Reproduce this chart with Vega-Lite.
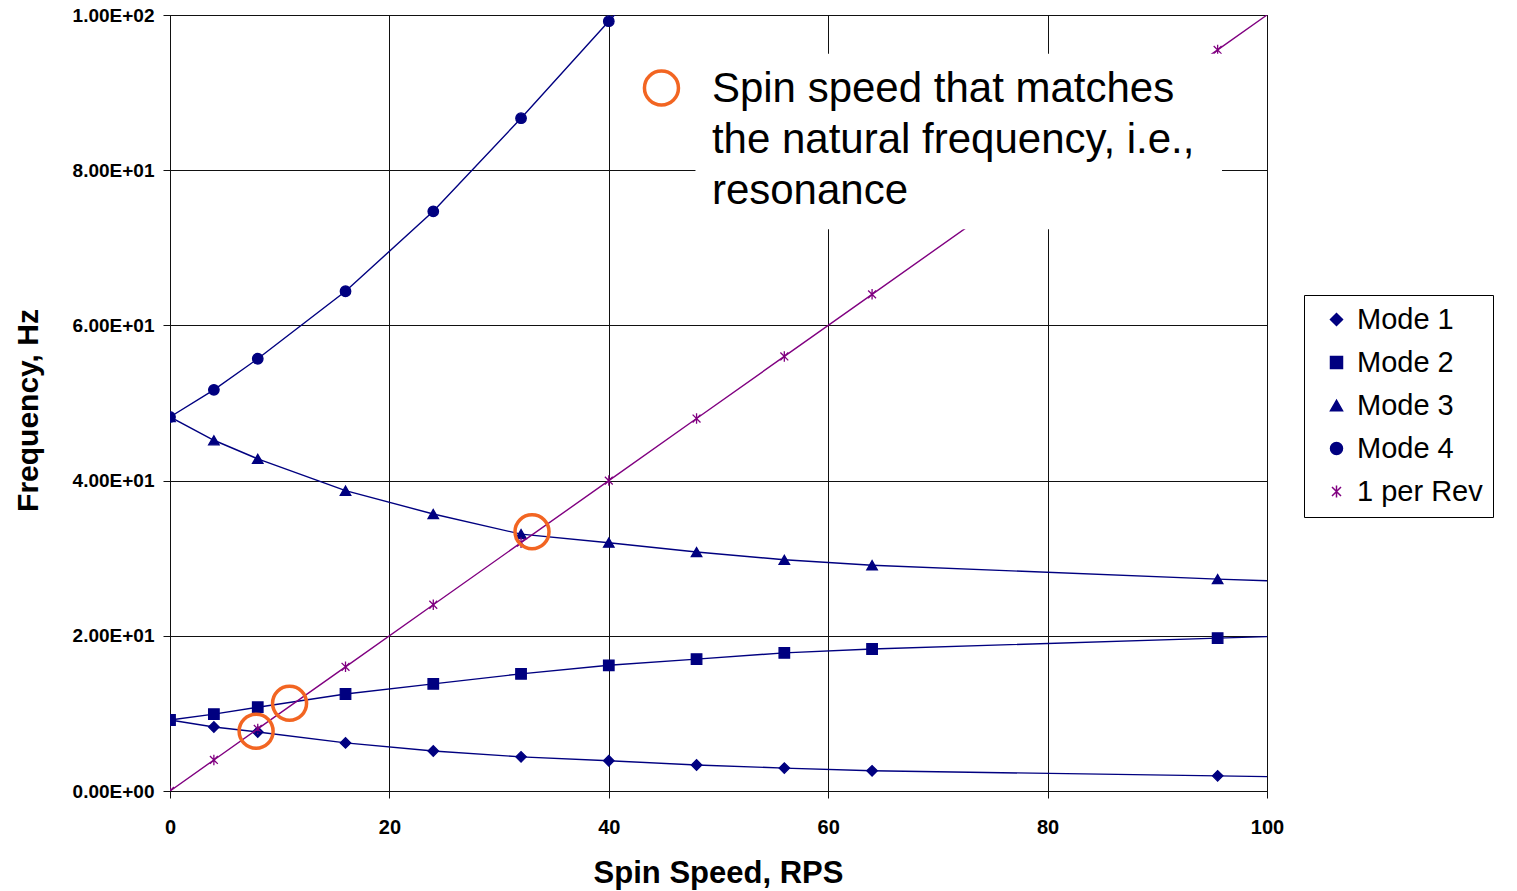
{
  "$schema": "https://vega.github.io/schema/vega-lite/v6.json",
  "autosize": "none",
  "width": 1097,
  "height": 776,
  "padding": {"left": 170, "top": 15, "right": 250, "bottom": 100},
  "background": "white",
  "config": {
    "font": "Liberation Sans",
    "view": {"stroke": "#333", "strokeWidth": 1},
    "axis": {"gridColor": "#111", "gridOpacity": 1, "gridWidth": 1, "domainColor": "#111", "tickColor": "#111", "tickSize": 7},
    "legend": {
      "title": null, "orient": "none", "legendX": 1134, "legendY": 280,
      "strokeColor": "#000", "fillColor": "white", "padding": 10,
      "labelFontSize": 29, "labelColor": "#000", "labelFont": "Liberation Sans",
      "rowPadding": 13, "symbolSize": 144, "symbolOffset": 8, "labelOffset": 6
    }
  },
  "datasets": {
    "curves": [
      {"rps": 0, "freq": 9.15, "series": "Mode 1"},
      {"rps": 4, "freq": 8.25, "series": "Mode 1"},
      {"rps": 8, "freq": 7.6, "series": "Mode 1"},
      {"rps": 16, "freq": 6.2, "series": "Mode 1"},
      {"rps": 24, "freq": 5.15, "series": "Mode 1"},
      {"rps": 32, "freq": 4.4, "series": "Mode 1"},
      {"rps": 40, "freq": 3.9, "series": "Mode 1"},
      {"rps": 48, "freq": 3.35, "series": "Mode 1"},
      {"rps": 56, "freq": 2.95, "series": "Mode 1"},
      {"rps": 64, "freq": 2.6, "series": "Mode 1"},
      {"rps": 95.5, "freq": 1.95, "series": "Mode 1"},
      {"rps": 100, "freq": 1.85, "series": "Mode 1"},
      {"rps": 0, "freq": 9.15, "series": "Mode 2"},
      {"rps": 4, "freq": 9.9, "series": "Mode 2"},
      {"rps": 8, "freq": 10.8, "series": "Mode 2"},
      {"rps": 16, "freq": 12.5, "series": "Mode 2"},
      {"rps": 24, "freq": 13.8, "series": "Mode 2"},
      {"rps": 32, "freq": 15.1, "series": "Mode 2"},
      {"rps": 40, "freq": 16.2, "series": "Mode 2"},
      {"rps": 48, "freq": 17.0, "series": "Mode 2"},
      {"rps": 56, "freq": 17.8, "series": "Mode 2"},
      {"rps": 64, "freq": 18.3, "series": "Mode 2"},
      {"rps": 95.5, "freq": 19.7, "series": "Mode 2"},
      {"rps": 100, "freq": 19.9, "series": "Mode 2"},
      {"rps": 0, "freq": 48.2, "series": "Mode 3"},
      {"rps": 4, "freq": 45.2, "series": "Mode 3"},
      {"rps": 8, "freq": 42.8, "series": "Mode 3"},
      {"rps": 16, "freq": 38.7, "series": "Mode 3"},
      {"rps": 24, "freq": 35.7, "series": "Mode 3"},
      {"rps": 32, "freq": 33.1, "series": "Mode 3"},
      {"rps": 40, "freq": 32.0, "series": "Mode 3"},
      {"rps": 48, "freq": 30.8, "series": "Mode 3"},
      {"rps": 56, "freq": 29.8, "series": "Mode 3"},
      {"rps": 64, "freq": 29.1, "series": "Mode 3"},
      {"rps": 95.5, "freq": 27.3, "series": "Mode 3"},
      {"rps": 100, "freq": 27.1, "series": "Mode 3"},
      {"rps": 0, "freq": 48.2, "series": "Mode 4"},
      {"rps": 4, "freq": 51.7, "series": "Mode 4"},
      {"rps": 8, "freq": 55.7, "series": "Mode 4"},
      {"rps": 16, "freq": 64.4, "series": "Mode 4"},
      {"rps": 24, "freq": 74.7, "series": "Mode 4"},
      {"rps": 32, "freq": 86.7, "series": "Mode 4"},
      {"rps": 40, "freq": 99.2, "series": "Mode 4"},
      {"rps": 48, "freq": 111.5, "series": "Mode 4"},
      {"rps": 0, "freq": 0, "series": "1 per Rev"},
      {"rps": 4, "freq": 4, "series": "1 per Rev"},
      {"rps": 8, "freq": 8, "series": "1 per Rev"},
      {"rps": 16, "freq": 16, "series": "1 per Rev"},
      {"rps": 24, "freq": 24, "series": "1 per Rev"},
      {"rps": 32, "freq": 32, "series": "1 per Rev"},
      {"rps": 40, "freq": 40, "series": "1 per Rev"},
      {"rps": 48, "freq": 48, "series": "1 per Rev"},
      {"rps": 56, "freq": 56, "series": "1 per Rev"},
      {"rps": 64, "freq": 64, "series": "1 per Rev"},
      {"rps": 95.5, "freq": 95.5, "series": "1 per Rev"},
      {"rps": 100, "freq": 100, "series": "1 per Rev"}
    ],
    "resonance": [
      {"rps": 7.85, "freq": 7.7},
      {"rps": 10.9, "freq": 11.3},
      {"rps": 33.0, "freq": 33.4}
    ]
  },
  "layer": [
    {
      "data": {"name": "curves"},
      "transform": [{"filter": "datum.rps < 99"}],
      "mark": {"type": "point", "filled": true, "size": 110, "strokeWidth": 1.3, "clip": true, "opacity": 1},
      "encoding": {
        "x": {"field": "rps", "type": "quantitative", "scale": {"domain": [0, 100], "nice": false},
          "axis": {"values": [0, 20, 40, 60, 80, 100], "title": "Spin Speed, RPS", "labelFontSize": 20, "labelFontWeight": "bold", "labelColor": "#000", "labelPadding": 19, "labelFlush": false,
            "titleFontSize": 31, "titleFontWeight": "bold", "titleColor": "#000", "titleX": 548, "titleY": 82, "titleBaseline": "middle"}},
        "y": {"field": "freq", "type": "quantitative", "scale": {"domain": [0, 100], "nice": false},
          "axis": {"values": [0, 20, 40, 60, 80, 100], "title": "Frequency, Hz", "labelFontSize": 19, "labelFontWeight": "bold", "labelColor": "#000", "labelPadding": 9,
            "labelExpr": "datum.value >= 100 ? '1.00E+02' : (datum.value == 0 ? '0.00E+00' : format(datum.value / 10, '.2f') + 'E+01')",
            "titleFontSize": 30, "titleFontWeight": "bold", "titleColor": "#000", "titleX": -142, "titleY": 395, "titleBaseline": "middle", "titleAngle": -90}},
        "color": {"field": "series", "type": "nominal",
          "scale": {"domain": ["Mode 1", "Mode 2", "Mode 3", "Mode 4", "1 per Rev"], "range": ["#000080", "#000080", "#000080", "#000080", "#800080"]},
          "legend": {
            "encode": {
              "symbols": {
                "shape": {
                  "condition": [
                    {"test": "datum.value == 'Mode 1'", "value": "M-3.9,0L3.9,0M0,-1L1,0L0,1L-1,0Z"},
                    {"test": "datum.value == 'Mode 2'", "value": "M-3.9,0L3.9,0M-0.8,-0.8L0.8,-0.8L0.8,0.8L-0.8,0.8Z"},
                    {"test": "datum.value == 'Mode 3'", "value": "M-3.9,0.55L3.9,0.55M0,-1L0.95,0.8L-0.95,0.8Z"},
                    {"test": "datum.value == 'Mode 4'", "value": "M-3.9,0L3.9,0M0.8,0A0.8,0.8,0,1,1,-0.8,0A0.8,0.8,0,1,1,0.8,0Z"}
                  ],
                  "value": "M-3.9,0L3.9,0M-0.75,-0.75L0.75,0.75M-0.75,0.75L0.75,-0.75M0,-1L0,1"
                },
                "size": {"value": 144},
                "strokeWidth": {"value": 1.3}
              }
            }
          }},
        "shape": {"field": "series", "type": "nominal",
          "scale": {"domain": ["Mode 1", "Mode 2", "Mode 3", "Mode 4", "1 per Rev"],
            "range": ["diamond", "square", "triangle-up", "circle", "M-0.75,-0.75L0.75,0.75M-0.75,0.75L0.75,-0.75M0,-1L0,1"]}},
        "stroke": {"field": "series", "type": "nominal", "legend": null,
          "scale": {"domain": ["Mode 1", "Mode 2", "Mode 3", "Mode 4", "1 per Rev"], "range": ["#000080", "#000080", "#000080", "#000080", "#800080"]}}
      }
    },
    {
      "data": {"name": "curves"},
      "mark": {"type": "line", "strokeWidth": 1.4, "clip": true},
      "encoding": {
        "x": {"field": "rps", "type": "quantitative"},
        "y": {"field": "freq", "type": "quantitative"},
        "color": {"field": "series", "type": "nominal",
          "scale": {"domain": ["Mode 1", "Mode 2", "Mode 3", "Mode 4", "1 per Rev"], "range": ["#000080", "#000080", "#000080", "#000080", "#800080"]}},
        "detail": {"field": "series"}
      }
    },
    {
      "data": {"values": [{}]},
      "mark": {"type": "rect", "fill": "white"},
      "encoding": {
        "x": {"datum": 47.9},
        "x2": {"datum": 95.9},
        "y": {"datum": 95.0},
        "y2": {"datum": 72.4}
      }
    },
    {
      "data": {"name": "resonance"},
      "mark": {"type": "point", "shape": "circle", "filled": false, "size": 1156, "stroke": "#F26522", "strokeWidth": 3.5, "opacity": 1},
      "encoding": {
        "x": {"field": "rps", "type": "quantitative"},
        "y": {"field": "freq", "type": "quantitative"}
      }
    },
    {
      "data": {"values": [{}]},
      "mark": {"type": "point", "shape": "circle", "filled": false, "size": 1156, "stroke": "#F26522", "strokeWidth": 3.5, "opacity": 1},
      "encoding": {
        "x": {"datum": 44.8},
        "y": {"datum": 90.6}
      }
    },
    {
      "data": {"values": [{}]},
      "mark": {"type": "text", "text": ["Spin speed that matches", "the natural frequency, i.e.,", "resonance"],
        "align": "left", "baseline": "middle", "fontSize": 42, "lineHeight": 51, "font": "Liberation Sans", "color": "#000"},
      "encoding": {
        "x": {"datum": 49.4},
        "y": {"datum": 90.4}
      }
    }
  ]
}
